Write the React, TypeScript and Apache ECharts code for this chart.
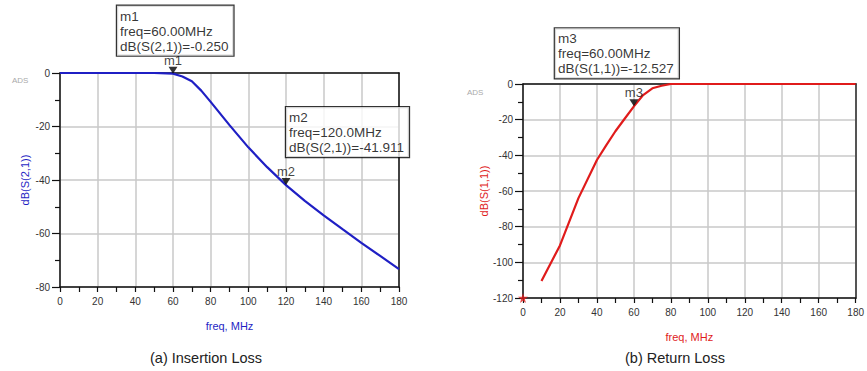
import React, { useEffect, useRef } from "react";
import * as echarts from "echarts";

// Insertion loss S(2,1)
const freqS21 = [0, 10, 20, 30, 40, 50, 60, 65, 70, 75, 80, 90, 100, 110, 120, 130, 140, 150, 160, 170, 180];
const dbS21 = [0, 0, 0, 0, 0, 0, -0.25, -1.3, -3.1, -6.6, -10.8, -19.5, -27.8, -35.2, -41.911, -47.8, -53.2, -58.4, -63.5, -68.4, -73.3];

// Return loss S(1,1)
const freqS11 = [10, 20, 30, 40, 45, 50, 55, 60, 65, 70, 75, 80, 90, 100, 110, 120, 130, 140, 150, 160, 170, 180];
const dbS11 = [-110.5, -90.5, -64, -42.6, -34.4, -26.5, -19.5, -12.527, -6.2, -2.4, -1.0, 0, 0, 0, 0, 0, 0, 0, 0, 0, 0, 0];

// Markers
const markers = [
  { name: "m1", grid: 0, freq: 60, value: -0.25, label: "dB(S(2,1))=-0.250", freqText: "freq=60.00MHz", box: [-56, -68] },
  { name: "m2", grid: 0, freq: 120, value: -41.911, label: "dB(S(2,1))=-41.911", freqText: "freq=120.0MHz", box: [0, -78] },
  { name: "m3", grid: 1, freq: 60, value: -12.527, label: "dB(S(1,1))=-12.527", freqText: "freq=60.00MHz", box: [-79, -78] },
];

const xTicks = { min: 0, max: 180, interval: 20 };
const yTicksLeft = { min: -80, max: 0, interval: 20 };
const yTicksRight = { min: -120, max: 0, interval: 20 };

const FONT = "'Liberation Sans', Arial, sans-serif";
const BLUE = "#1f1fc4";
const RED = "#e01b1b";
const AXIS = "#111";
const STAR = "path://M50,0 L61,35 L98,35 L68,57 L79,91 L50,70 L21,91 L32,57 L2,35 L39,35 Z";

function App() {
  const ref = useRef<HTMLDivElement>(null);
  useEffect(() => {
    if (!ref.current) return;
    const chart = echarts.init(ref.current, undefined, { renderer: "svg" });

    const baseX = (gridIndex: number, nameColor: string) => ({
      type: "value",
      gridIndex,
      min: xTicks.min,
      max: xTicks.max,
      interval: xTicks.interval,
      name: "freq, MHz",
      nameLocation: "middle",
      nameGap: 33,
      nameTextStyle: { color: nameColor, fontSize: 11, fontFamily: FONT },
      axisLine: { show: true, onZero: false, lineStyle: { color: AXIS, width: 1.5 } },
      axisTick: { show: true, length: 5, lineStyle: { color: AXIS, width: 1.2 } },
      minorTick: { show: true, splitNumber: 2, length: 5, lineStyle: { color: AXIS, width: 1.2 } },
      axisLabel: { color: "#333", fontSize: 10, fontFamily: FONT, margin: 9 },
      splitLine: { show: true, lineStyle: { color: "#c8c8c8", width: 1.5 } },
    });
    const topX = (gridIndex: number, color: string) => ({
      type: "value",
      gridIndex,
      position: "top",
      min: xTicks.min,
      max: xTicks.max,
      interval: xTicks.interval,
      axisLine: { show: true, onZero: false, lineStyle: { color, width: 1.5 } },
      axisTick: { show: false },
      axisLabel: { show: false },
      splitLine: { show: false },
    });
    const baseY = (gridIndex: number, t: any, name: string, nameColor: string) => ({
      type: "value",
      gridIndex,
      min: t.min,
      max: t.max,
      interval: t.interval,
      name,
      nameLocation: "middle",
      nameGap: 30,
      nameTextStyle: { color: nameColor, fontSize: 11, fontFamily: FONT },
      axisLine: { show: true, onZero: false, lineStyle: { color: AXIS, width: 1.5 } },
      axisTick: { show: true, length: 8, lineStyle: { color: AXIS, width: 1.2 } },
      minorTick: { show: true, splitNumber: 2, length: 5, lineStyle: { color: AXIS, width: 1.2 } },
      axisLabel: { color: "#333", fontSize: 10, fontFamily: FONT, margin: 10 },
      splitLine: { show: true, lineStyle: { color: "#c8c8c8", width: 1.5 } },
    });
    const rightY = (gridIndex: number, t: any, color: string, width: number) => ({
      type: "value",
      gridIndex,
      position: "right",
      min: t.min,
      max: t.max,
      interval: t.interval,
      axisLine: { show: true, onZero: false, lineStyle: { color, width } },
      axisTick: { show: false },
      axisLabel: { show: false },
      splitLine: { show: false },
    });

    const markerSeries: any[] = [];
    markers.forEach((m) => {
      markerSeries.push({
        type: "scatter",
        xAxisIndex: m.grid === 0 ? 0 : 2,
        yAxisIndex: m.grid === 0 ? 0 : 2,
        data: [[m.freq, m.value]],
        symbol: "triangle",
        symbolRotate: 180,
        symbolSize: [9, 7],
        symbolOffset: [0, -3.5],
        itemStyle: { color: "#000" },
        z: 5,
        clip: false,
        label: {
          show: true,
          position: "top",
          distance: 0,
          formatter: m.name,
          color: "#111",
          fontSize: 13,
          fontFamily: FONT,
        },
      });
      markerSeries.push({
        type: "scatter",
        xAxisIndex: m.grid === 0 ? 0 : 2,
        yAxisIndex: m.grid === 0 ? 0 : 2,
        data: [[m.freq, m.value]],
        symbolSize: 0,
        z: 6,
        clip: false,
        label: {
          show: true,
          position: "inside",
          align: "left",
          verticalAlign: "top",
          offset: m.box,
          formatter: [m.name, m.freqText, m.label].join("\n"),
          color: "#000",
          fontSize: 13.5,
          lineHeight: 15,
          fontFamily: FONT,
          backgroundColor: "#fff",
          borderColor: "#000",
          borderWidth: 1.2,
          padding: [3, 5, 2, 3],
        },
      });
    });

    chart.setOption({
      animation: false,
      backgroundColor: "#fff",
      grid: [
        { left: 60, top: 73, width: 339, height: 214 },
        { left: 523, top: 84, width: 339, height: 214 },
      ],
      xAxis: [baseX(0, BLUE), topX(0, AXIS), baseX(1, RED), topX(1, AXIS)],
      yAxis: [
        baseY(0, yTicksLeft, "dB(S(2,1))", BLUE),
        rightY(0, yTicksLeft, AXIS, 1.5),
        baseY(1, yTicksRight, "dB(S(1,1))", RED),
        rightY(1, yTicksRight, "#555", 2),
      ],
      series: [
        {
          type: "line",
          xAxisIndex: 0,
          yAxisIndex: 0,
          data: freqS21.map((f, i) => [f, dbS21[i]]),
          showSymbol: false,
          symbol: "none",
          lineStyle: { color: BLUE, width: 2.2 },
          z: 3,
        },
        {
          type: "line",
          xAxisIndex: 2,
          yAxisIndex: 2,
          data: freqS11.map((f, i) => [f, dbS11[i]]),
          showSymbol: false,
          symbol: "none",
          lineStyle: { color: RED, width: 2.2 },
          z: 3,
        },
        {
          type: "scatter",
          xAxisIndex: 2,
          yAxisIndex: 2,
          data: [[0, -120]],
          symbol: STAR,
          symbolSize: 10,
          itemStyle: { color: RED },
          clip: false,
          z: 10,
          zlevel: 1,
        },
        ...markerSeries,
      ],
      graphic: [
        { type: "text", left: 12, top: 76, style: { text: "ADS", fill: "#aaa", fontSize: 8, fontFamily: FONT } },
        { type: "text", left: 467, top: 88, style: { text: "ADS", fill: "#aaa", fontSize: 8, fontFamily: FONT } },
        { type: "text", left: 150, top: 350, style: { text: "(a) Insertion Loss", fill: "#222", fontSize: 14.5, fontFamily: FONT } },
        { type: "text", left: 625, top: 350, style: { text: "(b) Return Loss", fill: "#222", fontSize: 14.5, fontFamily: FONT } },
      ],
    });
    return () => chart.dispose();
  }, []);
  return <div ref={ref} style={{ width: 867, height: 371, position: "absolute", left: 0, top: 0 }} />;
}

export default App;
